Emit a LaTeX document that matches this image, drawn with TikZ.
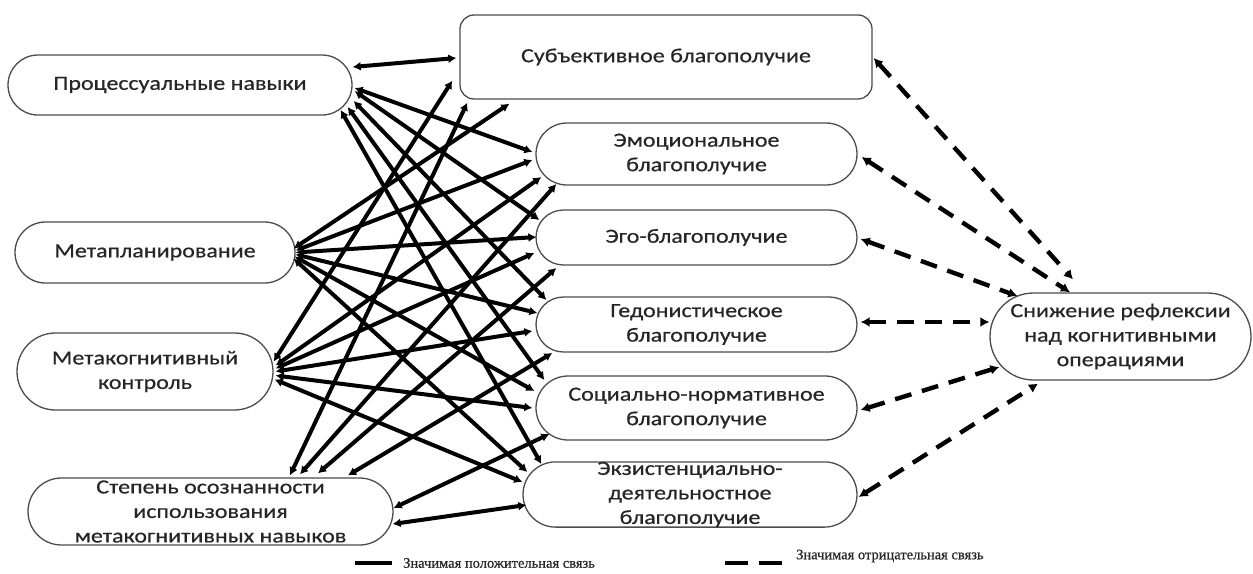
\documentclass[tikz,border=0pt]{standalone}
\usepackage{fontspec}
\setmainfont{Carlito}[FakeStretch=1.2, FakeBold=0.6]
\newfontfamily\legendfont{Liberation Serif}[FakeBold=0.5]
\usetikzlibrary{shapes.misc,arrows.meta,calc}
\begin{document}
\begin{tikzpicture}[x=1pt,y=-1pt,
  box/.style={rounded rectangle, draw=black!70, line width=1.3pt, inner sep=0pt, align=center,
    font=\fontsize{20}{24.5}\selectfont, text=black!85, fill=white},
  rbox/.style={rectangle, rounded corners=14pt, draw=black!70, line width=1.3pt, inner sep=0pt, align=center,
    font=\fontsize{20}{24.5}\selectfont, text=black!85, fill=white},
  poslink/.style={line width=4pt, {Latex[length=8pt,width=9pt]}-{Latex[length=8pt,width=9pt]}},
  neglink/.style={line width=4.4pt, dash pattern=on 17pt off 11pt, {Latex[length=9pt,width=10pt]}-{Latex[length=9pt,width=10pt]}},
  legtext/.style={anchor=west, inner sep=0pt, font=\legendfont\fontsize{14.5}{16}\selectfont, text=black!85}
]
\useasboundingbox[fill=white] (0,0) rectangle (1253,573);

% left nodes
\node[box, minimum width=344pt, minimum height=60pt] (P) at (180,85) {Процессуальные навыки};
\node[box, minimum width=280pt, minimum height=61pt] (M) at (155,252.5) {Метапланирование};
\node[box, minimum width=256pt, minimum height=77pt] (K) at (145,371.5) {Метакогнитивный\\контроль};
\node[box, minimum width=365pt, minimum height=67pt] (S) at (210.5,511.5) {Степень осознанности\\использования\\метакогнитивных навыков};

% right nodes
\node[rbox, minimum width=412pt, minimum height=84pt] (W0) at (666,57) {Субъективное благополучие};
\node[box, minimum width=321pt, minimum height=62pt] (W1) at (696.5,154) {Эмоциональное\\благополучие};
\node[box, minimum width=321pt, minimum height=55pt] (W2) at (696.5,237.5) {Эго-благополучие};
\node[box, minimum width=321pt, minimum height=55pt] (W3) at (696.5,324.5) {Гедонистическое\\благополучие};
\node[box, minimum width=321pt, minimum height=64pt] (W4) at (696.5,408) {Социально-нормативное\\благополучие};
\node[box, minimum width=334pt, minimum height=65pt] (W5) at (690,494.5) {Экзистенциально-\\деятельностное\\благополучие};

\node[box, minimum width=261pt, minimum height=87pt] (R) at (1120.5,336.5) {Снижение рефлексии\\над когнитивными\\операциями};

% positive links from P
\draw[poslink] ($(P.east)+(0,-18)$) -- ($(W0.west)+(-3,1)$);
\draw[poslink] ($(P.east)+(2,3)$) -- ($(W1.west)+(-3,-2)$);
\draw[poslink] ($(P.east)+(2,6)$) -- ($(W2.west)+(4,-17.5)$);
\draw[poslink] ($(P.east)+(1,16)$) -- ($(W3.west)+(11,-24.5)$);
\draw[poslink] ($(P.east)+(-5,22)$) -- ($(W4.west)+(9,-28)$);
\draw[poslink] ($(P.east)+(-12,25)$) -- ($(W5.west)+(19,-30.5)$);
% from M
\draw[poslink] ($(M.east)+(-2,-4)$) -- ($(W0.south west)+(50,4)$);
\draw[poslink] ($(M.east)+(0,-2)$) -- ($(W1.west)+(-3,6)$);
\draw[poslink] ($(M.east)+(0,0)$) -- ($(W2.west)+(1,-0.5)$);
\draw[poslink] ($(M.east)+(0,2)$) -- ($(W3.west)+(2,-11.5)$);
\draw[poslink] ($(M.east)+(-1,4)$) -- ($(W4.west)+(-1,-17)$);
\draw[poslink] ($(M.east)+(-2,6)$) -- ($(W5.west)+(5,-22.5)$);
% from K
\draw[poslink] ($(K.east)+(0,-10)$) -- ($(W0.south west)+(-7,-19)$);
\draw[poslink] ($(K.east)+(2,-6)$) -- ($(W1.west)+(6,23)$);
\draw[poslink] ($(K.east)+(2,-3)$) -- ($(W2.west)+(-1,15.5)$);
\draw[poslink] ($(K.east)+(2,0)$) -- ($(W3.west)+(-3,6.5)$);
\draw[poslink] ($(K.east)+(2,4)$) -- ($(W4.west)+(-3,0)$);
\draw[poslink] ($(K.east)+(1,8)$) -- ($(W5.west)+(0,-12.5)$);
% from S
\draw[poslink] ($(S.north)+(79.5,-2)$) -- ($(W0.south west)+(8,3)$);
\draw[poslink] ($(S.north)+(89.5,-3)$) -- ($(W1.west)+(21,30)$);
\draw[poslink] ($(S.north)+(107.5,-4)$) -- ($(W2.west)+(21,30.5)$);
\draw[poslink] ($(S.north)+(137.5,-2)$) -- ($(W3.west)+(17,28.5)$);
\draw[poslink] ($(S.east)+(0,-3.5)$) -- ($(W4.west)+(14,26)$);
\draw[poslink] ($(S.east)+(-1,12.5)$) -- ($(W5.west)+(4,10.5)$);

% negative links
\draw[neglink] ($(W0.east)+(1,1)$) -- ($(R.north)+(-47.5,-13)$);
\draw[neglink] ($(W1.east)+(4,3)$) -- ($(R.north)+(-50.5,0)$);
\draw[neglink] ($(W2.east)+(3,1.5)$) -- ($(R.west)+(28,-40.5)$);
\draw[neglink] ($(W3.east)+(3,-2.5)$) -- ($(R.west)+(0,-14.5)$);
\draw[neglink] ($(W4.east)+(3,2)$) -- ($(R.west)+(10,30.5)$);
\draw[neglink] ($(W5.east)+(1,2.5)$) -- ($(R.south)+(-82.5,3)$);

% legend
\coordinate (la) at (355,563);
\coordinate (lb) at (392,563);
\draw[line width=4.4pt] (la) -- (lb);
\node[legtext] (lt1) at (403,563) {Значимая положительная связь};
\coordinate (lc) at (725,563);
\coordinate (ld) at (782,563);
\draw[line width=4.4pt, dash pattern=on 23pt off 11pt] (lc) -- (ld);
\node[legtext] (lt2) at (796,556) {Значимая отрицательная связь};
\end{tikzpicture}
\end{document}
